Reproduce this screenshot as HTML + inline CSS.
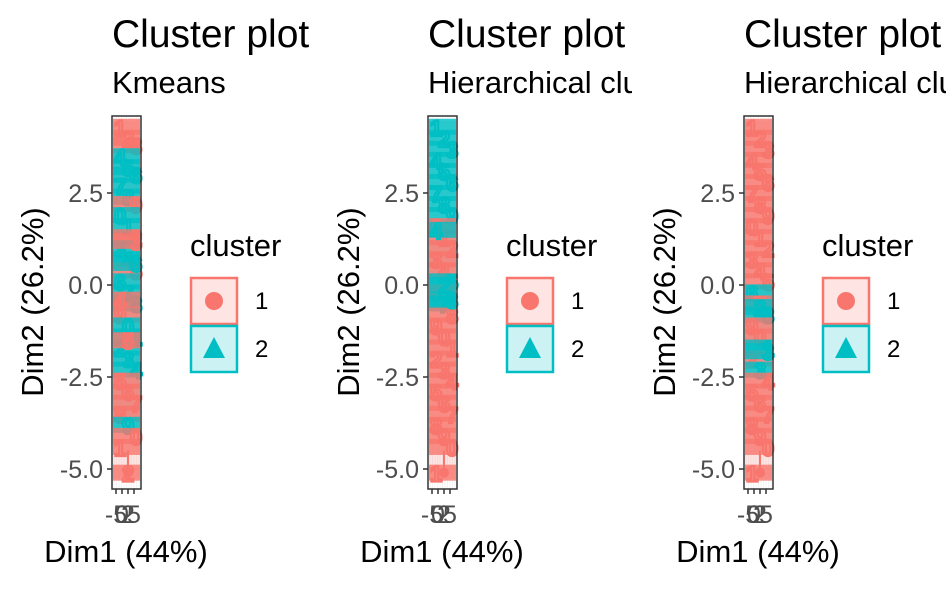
<!DOCTYPE html>
<html><head><meta charset="utf-8"><style>
body{margin:0;background:#fff;width:946px;height:584px;overflow:hidden;font-family:"Liberation Sans",Arial,sans-serif}
</style></head><body>
<svg id="chart" width="946" height="584" xmlns="http://www.w3.org/2000/svg" font-family="Liberation Sans, Arial, sans-serif"></svg>
<script>
const panelTitles = ["Cluster plot","Cluster plot","Cluster plot"];
const panelSubtitles = ["Kmeans","Hierarchical clustering","Hierarchical clustering"];
const yTicks = [2.5, 0.0, -2.5, -5.0];
const xTickLabels = ["-5","0","2","5"];
const legendLabels = ["1","2"];
const p1y = [4.3,4.0,3.8,3.5,3.2,3.0,2.7,2.4,2.2,1.9,1.6,1.3,1.0,0.7,0.4,0.1,-0.2,-0.5,-0.8,-1.1,-1.4,-1.7,-2.0,-2.3,-2.6,-2.9,-3.2,-3.5,-3.8,-4.1,-4.4,-5.1,1.2,-0.4,-1.5,0.6];
const p1c = [1,1,1,2,2,2,2,2,1,2,2,1,2,2,1,2,2,2,1,2,2,2,2,2,1,1,1,1,2,1,1,1,1,1,1,2];
const p2y = [4.3,4.0,3.7,3.4,3.1,2.8,2.5,2.2,1.9,1.6,1.3,1.0,0.7,0.4,0.1,-0.2,-0.5,-0.8,-1.1,-1.4,-1.7,-2.0,-2.3,-2.6,-2.9,-3.2,-3.5,-3.8,-4.1,-4.4,-5.1,0.0,-0.4,1.5];
const p2c = [2,2,2,2,2,2,2,2,2,1,1,1,1,1,2,1,2,1,1,1,1,1,1,1,1,1,1,1,1,1,1,2,2,2];
const p3y = [4.3,4.0,3.7,3.4,3.1,2.8,2.5,2.2,1.9,1.6,1.3,1.0,0.7,0.4,0.1,-0.2,-0.5,-0.8,-1.1,-1.4,-1.7,-2.0,-2.3,-2.6,-2.9,-3.2,-3.5,-3.8,-4.1,-4.4,-5.1,-0.6,-1.8];
const p3c = [1,1,1,1,1,1,1,1,1,1,1,1,1,1,1,2,1,2,1,1,2,1,2,1,1,1,1,1,1,1,1,2,2];
const panelsY = [p1y,p2y,p3y];
const panelsC = [p1c,p2c,p3c];

const NS="http://www.w3.org/2000/svg";
const svg=document.getElementById('chart');
const col={1:"#F8766D",2:"#00BFC4"};
function mk(tag,attrs,parent){const e=document.createElementNS(NS,tag);for(const k in attrs)e.setAttribute(k,attrs[k]);(parent||svg).appendChild(e);return e;}
const yScale=v=>285-v*36.8;
const digits="1234567890";
for(let p=0;p<3;p++){
  const ox=p*316;
  const g=mk('g',{});
  
  
  const cp=mk('clipPath',{id:'cp'+p},g);mk('rect',{x:ox,y:0,width:316,height:584},cp);
  g.setAttribute('clip-path','url(#cp'+p+')');
  const t=mk('text',{x:ox+112,y:47,'font-size':39,fill:'#000'},g);t.textContent=panelTitles[p];
  
  
  const s=mk('text',{x:ox+112,y:93,'font-size':31,fill:'#000'},g);s.textContent=panelSubtitles[p];
  
  
  const x0=ox+112,x1=ox+141;
  for(let gx=x0+2;gx<x1;gx+=2.5)mk('line',{x1:gx,x2:gx,y1:116,y2:489,stroke:'#ebebeb','stroke-width':0.6},g);
  yTicks.forEach(v=>mk('line',{x1:x0,x2:x1,y1:yScale(v),y2:yScale(v),stroke:'#ebebeb','stroke-width':1},g));
  const ys=panelsY[p],cs=panelsC[p];
  [1,2].forEach(c=>{
    const vals=ys.filter((v,i)=>cs[i]===c);
    const hi=Math.max(...vals),lo=Math.min(...vals);
    const h=mk('rect',{x:x0+1,y:yScale(hi)-6,width:27,height:yScale(lo)-yScale(hi)+12,fill:col[c],'fill-opacity':0.2},g);
    
    
  });
  ys.forEach((v,i)=>{
    const c=cs[i];
    const r=mk('rect',{x:x0+1,y:yScale(v)-8,width:27,height:16,fill:col[c],'fill-opacity':0.8},g);
    
    
    const tx=mk('text',{x:x0+2+(i%3)*8,y:yScale(v)+9,'font-size':22,'font-weight':'bold',fill:'none',stroke:col[c],'stroke-width':2.2},g);
    tx.textContent=digits[i%10];
    
    
  });
  const cpnt=mk('circle',{cx:x0+16,cy:yScale(-5.1),r:5,fill:col[1]},g);
  
  
  mk('line',{x1:x0+16,x2:x0+16,y1:yScale(-4.5),y2:yScale(-5.1),stroke:col[1],'stroke-width':2},g);
  const fr=mk('rect',{x:x0,y:116,width:29,height:373,fill:'none',stroke:'#333','stroke-width':1.5},g);
  
  
  yTicks.forEach(v=>{
    mk('line',{x1:x0-5,x2:x0,y1:yScale(v),y2:yScale(v),stroke:'#333','stroke-width':1.5},g);
    const l=mk('text',{x:x0-9,y:yScale(v)+9,'font-size':25,fill:'#4d4d4d','text-anchor':'end'},g);
    l.textContent=v.toFixed(1);
    
    
  });
  xTickLabels.forEach((lab,i)=>{
    const xx=x0+4+i*6;
    mk('line',{x1:xx,x2:xx,y1:489,y2:494,stroke:'#333','stroke-width':1.5},g);
    const l=mk('text',{x:xx,y:523,'font-size':25,fill:'#4d4d4d','text-anchor':'middle'},g);
    l.textContent=lab;
    
    
  });
  const xl=mk('text',{x:ox+126,y:562,'font-size':31,fill:'#000','text-anchor':'middle'},g);xl.textContent="Dim1 (44%)";
  
  
  const yl=mk('text',{x:0,y:0,'font-size':31,fill:'#000','text-anchor':'middle',transform:`translate(${ox+43},302) rotate(-90)`},g);yl.textContent="Dim2 (26.2%)";
  
  
  const lt=mk('text',{x:ox+190,y:256,'font-size':31,fill:'#000'},g);lt.textContent="cluster";
  
  
  legendLabels.forEach((lab,i)=>{
    const c=i+1,ky=278+i*48;
    const k=mk('rect',{x:ox+191,y:ky,width:46,height:46,fill:col[c],'fill-opacity':0.2,stroke:col[c],'stroke-width':2.5},g);
    
    
    if(c===1)mk('circle',{cx:ox+214,cy:ky+23,r:9,fill:col[c]},g);
    else mk('polygon',{points:`${ox+214},${ky+11} ${ox+225},${ky+32} ${ox+203},${ky+32}`,fill:col[c]},g);
    const lb=mk('text',{x:ox+255,y:ky+31,'font-size':24,fill:'#000'},g);lb.textContent=lab;
    
    
  });
}
</script>
</body></html>
